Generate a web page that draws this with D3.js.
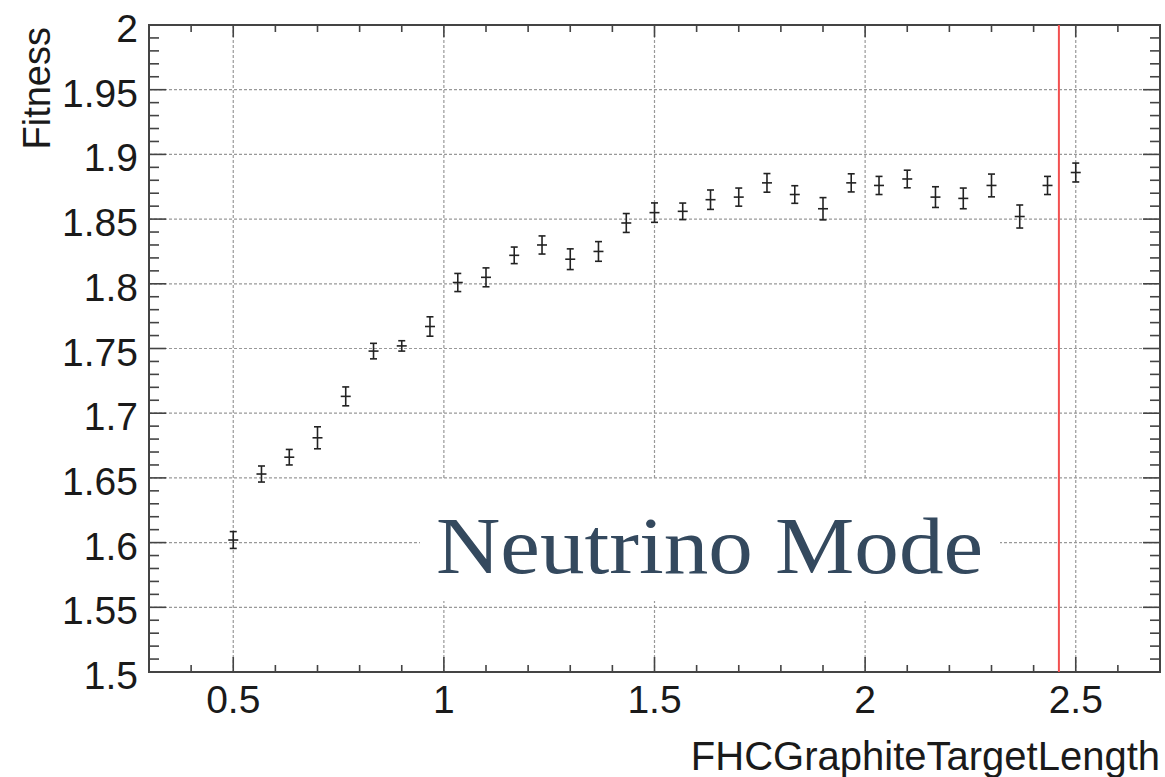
<!DOCTYPE html>
<html>
<head>
<meta charset="utf-8">
<script src="https://cdn.jsdelivr.net/npm/d3@7"></script>
<style>
  body { margin: 0; background: #fff; }
  text { font-family: "Liberation Sans", Arial, sans-serif; }
</style>
</head>
<body>
<svg id="chart" width="1165" height="777"></svg>
<script>
// data
const targetLength = [0.5, 0.567, 0.633, 0.7, 0.767, 0.833, 0.9, 0.967, 1.033, 1.1,
  1.167, 1.233, 1.3, 1.367, 1.433, 1.5, 1.567, 1.633, 1.7, 1.767,
  1.833, 1.9, 1.967, 2.033, 2.1, 2.167, 2.233, 2.3, 2.367, 2.433, 2.5];
const fitness = [1.602, 1.653, 1.666, 1.681, 1.713, 1.748, 1.752, 1.767, 1.801, 1.805,
  1.822, 1.830, 1.819, 1.825, 1.847, 1.855, 1.856, 1.865, 1.867, 1.878,
  1.869, 1.858, 1.878, 1.876, 1.881, 1.867, 1.866, 1.876, 1.852, 1.876, 1.886];
const fitnessErr = [0.0065, 0.0062, 0.006, 0.0085, 0.0073, 0.006, 0.004, 0.0075, 0.007, 0.0073,
  0.0064, 0.007, 0.008, 0.0076, 0.0073, 0.0075, 0.0064, 0.0075, 0.007, 0.0072,
  0.0068, 0.0086, 0.007, 0.007, 0.0068, 0.008, 0.008, 0.0088, 0.0089, 0.007, 0.0073];
const xMajorTicks = [0.5, 1, 1.5, 2, 2.5];
const yMajorTicks = [1.5, 1.55, 1.6, 1.65, 1.7, 1.75, 1.8, 1.85, 1.9, 1.95, 2];
const currentLength = 2.46;
const label = 'Neutrino Mode';

const svg = d3.select('#chart');
const plotL = 149, plotR = 1160, plotT = 25, plotB = 672;

const x = d3.scaleLinear().domain([0.3, 2.7]).range([plotL, plotR]);
const y = d3.scaleLinear().domain([1.5, 2]).range([plotB, plotT]);

const xMinor = d3.range(3, 28).map(d => d / 10);
const yMinor = d3.range(150, 201).map(d => d / 100);
const fmt = v => String(+v.toFixed(2));

// grid
const grid = svg.append('g').attr('stroke', '#999').attr('stroke-width', 1.2)
  .attr('stroke-dasharray', '3,2');
xMajorTicks.forEach(v => {
  grid.append('line')
    .attr('x1', x(v)).attr('x2', x(v)).attr('y1', plotT).attr('y2', plotB);
});
yMajorTicks.forEach(v => {
  grid.append('line')
    .attr('x1', plotL).attr('x2', plotR).attr('y1', y(v)).attr('y2', y(v));
});

// label box hides the grid behind the text
svg.append('rect')
  .attr('x', 420).attr('y', 479).attr('width', 580).attr('height', 122)
  .attr('fill', '#fff');
svg.append('text')
  .attr('x', 436).attr('y', 573)
  .attr('textLength', 547).attr('lengthAdjust', 'spacingAndGlyphs')
  .style('font-family', '"Palatino Linotype", "Book Antiqua", "Liberation Serif", serif')
  .style('font-size', '80px')
  .attr('fill', '#34495e')
  .text(label);

// ticks
const ticks = svg.append('g').attr('stroke', '#444').attr('stroke-width', 1.6);
xMinor.forEach(v => {
  const major = xMajorTicks.some(m => Math.abs(m - v) < 1e-6);
  ticks.append('line').attr('x1', x(v)).attr('x2', x(v)).attr('y1', plotB).attr('y2', plotB - (major ? 15 : 7));
  ticks.append('line').attr('x1', x(v)).attr('x2', x(v)).attr('y1', plotT).attr('y2', plotT + (major ? 12 : 7));
});
yMinor.forEach(v => {
  const major = yMajorTicks.some(m => Math.abs(m - v) < 1e-6);
  const len = major ? 17 : 10;
  ticks.append('line').attr('x1', plotL).attr('x2', plotL + len).attr('y1', y(v)).attr('y2', y(v));
  ticks.append('line').attr('x1', plotR).attr('x2', plotR - len).attr('y1', y(v)).attr('y2', y(v));
});

// frame
svg.append('rect')
  .attr('x', plotL).attr('y', plotT).attr('width', plotR - plotL).attr('height', plotB - plotT)
  .attr('fill', 'none').attr('stroke', '#444').attr('stroke-width', 2);

// red marker line
svg.append('line')
  .attr('x1', x(currentLength)).attr('x2', x(currentLength))
  .attr('y1', plotT).attr('y2', plotB)
  .attr('stroke', '#f25050').attr('stroke-width', 2);

// tick labels
svg.append('g').selectAll('text').data(xMajorTicks).join('text')
  .attr('x', d => x(d)).attr('y', 713)
  .attr('text-anchor', 'middle').attr('fill', '#1a1a1a')
  .style('font-size', '39px')
  .text(fmt);
svg.append('g').selectAll('text').data(yMajorTicks).join('text')
  .attr('x', 138).attr('y', d => y(d) + 17)
  .attr('text-anchor', 'end').attr('fill', '#1a1a1a')
  .style('font-size', '39px')
  .text(fmt);

// axis titles
svg.append('text')
  .attr('x', 1160).attr('y', 770)
  .attr('text-anchor', 'end').attr('fill', '#1a1a1a')
  .style('font-size', '40px')
  .text('FHCGraphiteTargetLength');
svg.append('text')
  .attr('transform', 'translate(50,27) rotate(-90)')
  .attr('text-anchor', 'end').attr('fill', '#1a1a1a')
  .style('font-size', '38px')
  .text('Fitness');

// points with error bars
const pts = svg.append('g').attr('stroke', '#222').attr('stroke-width', 1.6);
targetLength.forEach((v, i) => {
  const cx = x(v), cy = y(fitness[i]);
  const y0 = y(fitness[i] - fitnessErr[i]), y1 = y(fitness[i] + fitnessErr[i]);
  pts.append('line').attr('x1', cx).attr('x2', cx).attr('y1', y0).attr('y2', y1);
  pts.append('line').attr('x1', cx - 3.5).attr('x2', cx + 3.5).attr('y1', y0).attr('y2', y0);
  pts.append('line').attr('x1', cx - 3.5).attr('x2', cx + 3.5).attr('y1', y1).attr('y2', y1);
  pts.append('line').attr('x1', cx - 5).attr('x2', cx + 5).attr('y1', cy).attr('y2', cy);
});
</script>
</body>
</html>
